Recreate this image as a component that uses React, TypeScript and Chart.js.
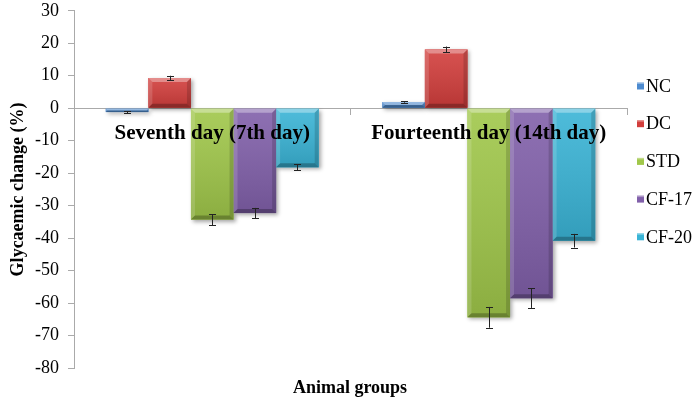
import React, { useEffect, useRef } from "react";
import { Chart, registerables } from "chart.js";

Chart.register(...registerables);

const categories = ["Seventh day (7th day)", "Fourteenth day (14th day)"];
const seriesNames = ["NC", "DC", "STD", "CF-17", "CF-20"];
const ncValues = [-1.2, 1.9];
const dcValues = [9.3, 18.1];
const stdValues = [-34.3, -64.4];
const cf17Values = [-32.3, -58.5];
const cf20Values = [-18.2, -40.8];
const ncErrors = [0.3, 0.2];
const dcErrors = [0.7, 0.9];
const stdErrors = [1.7, 3.2];
const cf17Errors = [1.6, 3.0];
const cf20Errors = [0.9, 2.1];
const seriesColors = ["#4d8bd0", "#d23e3c", "#a0c74a", "#8160aa", "#3ab4d6"];
const yMin = -80;
const yMax = 30;
const yStep = 10;
const yTitle = "Glycaemic change (%)";
const xTitle = "Animal groups";

const FONT = "'Liberation Serif', 'Times New Roman', serif";
const SHIFT = 9;

const seriesValues = [ncValues, dcValues, stdValues, cf17Values, cf20Values];
const seriesErrors = [ncErrors, dcErrors, stdErrors, cf17Errors, cf20Errors];

function barRect(el: any) {
  const L = el.x - el.width / 2;
  const R = el.x + el.width / 2;
  const T = Math.min(el.y, el.base);
  const B = Math.max(el.y, el.base);
  return { L, R, T, B };
}

function poly(ctx: CanvasRenderingContext2D, pts: number[][], fill: string) {
  ctx.beginPath();
  ctx.moveTo(pts[0][0], pts[0][1]);
  for (let i = 1; i < pts.length; i++) ctx.lineTo(pts[i][0], pts[i][1]);
  ctx.closePath();
  ctx.fillStyle = fill;
  ctx.fill();
}

const decorPlugin = {
  id: "decor",
  beforeDatasetsDraw(chart: any) {
    const ctx = chart.ctx as CanvasRenderingContext2D;
    chart.data.datasets.forEach((ds: any, di: number) => {
      const meta = chart.getDatasetMeta(di);
      meta.data.forEach((el: any) => {
        const { L, R, T, B } = barRect(el);
        ctx.save();
        ctx.shadowColor = "rgba(0,0,0,0.35)";
        ctx.shadowBlur = 4;
        ctx.shadowOffsetX = 2;
        ctx.shadowOffsetY = 2;
        ctx.fillStyle = ds.backgroundColor;
        ctx.fillRect(L, T, R - L, B - T);
        ctx.restore();
      });
    });
  },
  afterDatasetsDraw(chart: any) {
    const ctx = chart.ctx as CanvasRenderingContext2D;
    const yScale = chart.scales.y;
    const xScale = chart.scales.x;
    chart.data.datasets.forEach((ds: any, di: number) => {
      const meta = chart.getDatasetMeta(di);
      meta.data.forEach((el: any) => {
        const { L, R, T, B } = barRect(el);
        const h = B - T;
        const w = R - L;
        const b = Math.min(4, h / 2, w / 2);
        ctx.save();
        const g = ctx.createLinearGradient(0, T, 0, B);
        g.addColorStop(0, "rgba(255,255,255,0.1)");
        g.addColorStop(1, "rgba(0,0,0,0.13)");
        ctx.fillStyle = g;
        ctx.fillRect(L, T, w, h);
        poly(ctx, [[L, T], [R, T], [R - b, T + b], [L + b, T + b]], "rgba(255,255,255,0.35)");
        poly(ctx, [[L, T], [L + b, T + b], [L + b, B - b], [L, B]], "rgba(255,255,255,0.15)");
        poly(ctx, [[R, T], [R, B], [R - b, B - b], [R - b, T + b]], "rgba(0,0,0,0.15)");
        poly(ctx, [[L, B], [R, B], [R - b, B - b], [L + b, B - b]], "rgba(0,0,0,0.25)");
        ctx.restore();
      });
    });
    // error bars
    chart.data.datasets.forEach((ds: any, di: number) => {
      const meta = chart.getDatasetMeta(di);
      meta.data.forEach((el: any, i: number) => {
        const v = ds.data[i];
        const e = ds.errors[i];
        const yTop = yScale.getPixelForValue(v + e);
        const yBot = yScale.getPixelForValue(v - e);
        const x = Math.round(el.x) + 0.5;
        const cap = 3.5;
        ctx.save();
        ctx.strokeStyle = "#222";
        ctx.lineWidth = 1;
        ctx.beginPath();
        ctx.moveTo(x, yTop);
        ctx.lineTo(x, yBot);
        ctx.moveTo(x - cap, Math.round(yTop) + 0.5);
        ctx.lineTo(x + cap, Math.round(yTop) + 0.5);
        ctx.moveTo(x - cap, Math.round(yBot) + 0.5);
        ctx.lineTo(x + cap, Math.round(yBot) + 0.5);
        ctx.stroke();
        ctx.restore();
      });
    });
    // category labels on top of bars
    ctx.save();
    ctx.font = `bold 21px ${FONT}`;
    ctx.fillStyle = "#000";
    ctx.textAlign = "center";
    ctx.textBaseline = "middle";
    const zeroY = yScale.getPixelForValue(0);
    categories.forEach((c, i) => {
      ctx.fillText(c, xScale.getPixelForValue(i), zeroY + 25);
    });
    ctx.restore();
  },
  afterDraw(chart: any) {
    const ctx = chart.ctx as CanvasRenderingContext2D;
    // legend
    ctx.save();
    ctx.font = `18px ${FONT}`;
    ctx.textBaseline = "middle";
    ctx.textAlign = "left";
    seriesNames.forEach((name, i) => {
      const cy = 86 + SHIFT + i * 37.7;
      const sx = 637;
      const sq = 7;
      ctx.fillStyle = seriesColors[i];
      ctx.fillRect(sx, cy - sq / 2, sq, sq);
      ctx.fillStyle = "rgba(255,255,255,0.35)";
      ctx.fillRect(sx, cy - sq / 2, sq, 1.5);
      ctx.fillStyle = "#000";
      ctx.fillText(name, sx + 9, cy + 1);
    });
    // x title
    ctx.font = `bold 18px ${FONT}`;
    ctx.textAlign = "center";
    ctx.textBaseline = "alphabetic";
    ctx.fillText(xTitle, 350, 393 + SHIFT);
    ctx.restore();
  },
};

export default function App() {
  const ref = useRef<HTMLCanvasElement | null>(null);
  useEffect(() => {
    if (!ref.current) return;
    const chart = new Chart(ref.current, {
      type: "bar",
      data: {
        labels: categories,
        datasets: seriesNames.map((name, i) => ({
          label: name,
          data: seriesValues[i],
          errors: seriesErrors[i],
          backgroundColor: seriesColors[i],
          borderWidth: 0,
          categoryPercentage: 0.77,
          barPercentage: 1.0,
        })) as any,
      },
      options: {
        animation: false,
        responsive: false,
        layout: { padding: { left: 0, right: 73, top: 0, bottom: 39 } },
        plugins: {
          legend: { display: false },
          tooltip: { enabled: false },
          title: { display: false },
        },
        scales: {
          x: {
            position: { y: 0 } as any,
            grid: {
              drawOnChartArea: false,
              drawTicks: true,
              tickLength: 6,
              color: "#aaaaaa",
              offset: true,
            },
            border: { color: "#aaaaaa", width: 1 },
            ticks: {
              display: false,
              autoSkip: false,
              maxRotation: 0,
              minRotation: 0,
            },
          },
          y: {
            min: yMin,
            max: yMax,
            afterFit(scale: any) {
              scale.width = 74;
            },
            grid: {
              drawOnChartArea: false,
              drawTicks: true,
              tickLength: 6,
              color: "#aaaaaa",
            },
            border: { color: "#aaaaaa", width: 1 },
            ticks: {
              stepSize: yStep,
              padding: 9,
              color: "#000",
              font: { family: FONT, size: 18 },
            },
            title: {
              display: true,
              text: yTitle,
              color: "#000",
              font: { family: FONT, size: 18, weight: "bold" },
              padding: { top: 8, bottom: 0 },
            },
          },
        },
      },
      plugins: [decorPlugin],
    });
    return () => chart.destroy();
  }, []);
  return (
    <div style={{ position: "absolute", left: 0, top: 0, width: 700, height: 407, overflow: "hidden", background: "#fff" }}>
      <canvas
        ref={ref}
        width={700}
        height={407 + SHIFT}
        style={{ position: "absolute", left: 0, top: -SHIFT, display: "block" }}
      />
    </div>
  );
}
